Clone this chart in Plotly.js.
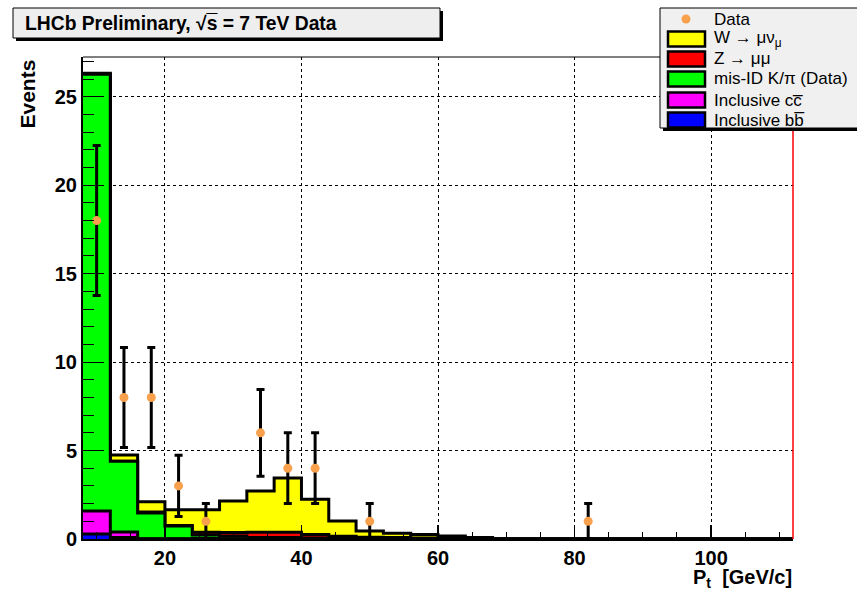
<!DOCTYPE html>
<html>
<head>
<meta charset="utf-8">
<script src="https://cdn.plot.ly/plotly-3.0.1.min.js"></script>
<style>
  html, body { margin: 0; padding: 0; background: #ffffff; }
  #chart { width: 857px; height: 590px; }
</style>
</head>
<body>
<div id="chart"></div>
<script>
// Histogram bin edges in Pt (GeV/c), 4 GeV wide bins from 8 to 112
const binEdges = [8, 12, 16, 20, 24, 28, 32, 36, 40, 44, 48, 52, 56, 60, 64, 68,
                  72, 76, 80, 84, 88, 92, 96, 100, 104, 108, 112];

// Expected events per bin for each stacked contribution
const wMuNu   = [0.05, 0.35, 0.58, 0.88, 1.27, 1.78, 2.34, 3.07, 2.00, 0.87, 0.35, 0.25, 0.20, 0.12, 0.06,
                 0, 0, 0, 0, 0, 0, 0, 0, 0, 0, 0];
const zMuMu   = [0, 0, 0.05, 0.03, 0.15, 0.20, 0.30, 0.30, 0.20, 0.10, 0.07, 0.05, 0.04, 0.03, 0.02,
                 0, 0, 0, 0, 0, 0, 0, 0, 0, 0, 0];
const misId   = [24.70, 4.00, 1.45, 0.72, 0.20, 0.15, 0.08, 0.08, 0.05, 0.05, 0.03, 0.03, 0.02, 0.02, 0,
                 0, 0, 0, 0, 0, 0, 0, 0, 0, 0, 0];
const ccbar   = [1.30, 0.32, 0.02, 0.02, 0.03, 0.02, 0, 0, 0, 0, 0, 0, 0, 0, 0,
                 0, 0, 0, 0, 0, 0, 0, 0, 0, 0, 0];
const bbbar   = [0.28, 0.08, 0, 0, 0, 0, 0, 0, 0, 0, 0, 0, 0, 0, 0,
                 0, 0, 0, 0, 0, 0, 0, 0, 0, 0, 0];

// Observed candidates (bin centres), counts and Poisson uncertainties
const dataPt    = [10, 14, 18, 22, 26, 34, 38, 42, 50, 82];
const dataCount = [18, 8, 8, 3, 1, 6, 4, 4, 1, 1];
const dataErr   = [4.24, 2.83, 2.83, 1.73, 1, 2.45, 2, 2, 1, 1];

// Legend entries for the stacked contributions (top of stack first)
const stackNames  = ['W \u2192 \u03bc\u03bd<sub>\u03bc</sub>', 'Z \u2192 \u03bc\u03bc',
                     'mis-ID K/\u03c0 (Data)', 'Inclusive cc\u0305', 'Inclusive bb\u0305'];
const stackColors = ['#ffff00', '#ff0000', '#00ff00', '#ff00ff', '#0000ff'];

const xTickVals = [20, 40, 60, 80, 100];
const yTickVals = [0, 5, 10, 15, 20, 25];

// ---- stacking: cumulative sums from the bottom (bb) to the top (W) ----
const layersBottomUp = [bbbar, ccbar, misId, zMuMu, wMuNu];
const cumulative = [];
let running = binEdges.slice(1).map(() => 0);
layersBottomUp.forEach(layer => {
  running = running.map((v, i) => v + layer[i]);
  cumulative.push(running.slice());
});

// Step outline: one point per lower edge, plus the last upper edge
function stepY(vals) { return vals.concat([vals[vals.length - 1]]); }

const FONT = '"Liberation Sans", Arial, Helvetica, sans-serif';
const traces = [];
// draw the tallest cumulative first so each lower layer is painted over it
for (let k = cumulative.length - 1; k >= 0; k--) {
  traces.push({
    type: 'scatter', mode: 'lines',
    x: binEdges, y: stepY(cumulative[k]),
    line: { shape: 'hv', color: '#000000', width: 3 },
    fill: 'tozeroy', fillcolor: stackColors[cumulative.length - 1 - k],
    hoverinfo: 'skip', showlegend: false
  });
}
traces.push({
  type: 'scatter', mode: 'markers',
  x: dataPt, y: dataCount,
  marker: { color: '#f8a04c', size: 9 },
  error_y: { type: 'data', array: dataErr, visible: true, color: '#000000', thickness: 3, width: 4 },
  showlegend: false
});

// ---- page geometry helpers (pixel -> paper) ----
const L = 83, T = 57, PW = 710, PH = 482;
const px = x => (x - L) / PW;
const py = y => (T + PH - y) / PH;

const shapes = [
  // frame: thin top edge, red right edge
  { type: 'line', xref: 'paper', yref: 'paper', x0: 0, x1: 1, y0: 1, y1: 1,
    line: { color: '#000000', width: 1 } },
  { type: 'line', xref: 'paper', yref: 'paper', x0: 1, x1: 1, y0: 0, y1: 1,
    line: { color: '#ff0000', width: 1.5 } },
  // title box with drop shadow
  { type: 'rect', xref: 'paper', yref: 'paper', x0: px(16), x1: px(443), y0: py(41), y1: py(11),
    fillcolor: '#000000', line: { width: 0 } },
  { type: 'rect', xref: 'paper', yref: 'paper', x0: px(13), x1: px(440), y0: py(38), y1: py(8),
    fillcolor: '#eeeeee', line: { color: '#000000', width: 1 } },
  // legend box with drop shadow
  { type: 'rect', xref: 'paper', yref: 'paper', x0: px(663), x1: px(880), y0: py(131), y1: py(11),
    fillcolor: '#000000', line: { width: 0 } },
  { type: 'rect', xref: 'paper', yref: 'paper', x0: px(660), x1: px(877), y0: py(128), y1: py(8),
    fillcolor: '#f0f0f0', line: { color: '#000000', width: 1 } },
  // data marker in legend
  { type: 'circle', xref: 'paper', yref: 'paper', x0: px(681.5), x1: px(690.5), y0: py(23.5), y1: py(14.5),
    fillcolor: '#f8a04c', line: { width: 0 } }
];

const legendRowY = [39, 59, 79, 100, 120];
const annotations = [
  { xref: 'paper', yref: 'paper', x: px(23), y: py(23), xanchor: 'left', yanchor: 'middle',
    text: '<b>LHCb Preliminary, \u221as\u0305 = 7 TeV Data</b>', showarrow: false,
    font: { family: FONT, size: 19.3, color: '#000000' } },
  { xref: 'paper', yref: 'paper', x: px(712), y: py(19), xanchor: 'left', yanchor: 'middle',
    text: 'Data', showarrow: false, font: { family: FONT, size: 17, color: '#000000' } },
  { xref: 'paper', yref: 'paper', x: px(27), y: 1, xanchor: 'center', yanchor: 'top',
    textangle: -90, text: '<b>Events</b>', showarrow: false,
    font: { family: FONT, size: 21, color: '#000000' } },
  { xref: 'paper', yref: 'paper', x: 1, y: py(578), xanchor: 'right', yanchor: 'middle',
    borderpad: 0,
    text: '<b>P<sub>t</sub>\u00a0\u00a0[GeV/c]</b>', showarrow: false,
    font: { family: FONT, size: 20, color: '#000000' } }
];
stackNames.forEach((name, i) => {
  const yc = legendRowY[i];
  shapes.push({ type: 'rect', xref: 'paper', yref: 'paper',
    x0: px(668), x1: px(705), y0: py(yc + 7.5), y1: py(yc - 7.5),
    fillcolor: stackColors[i], line: { color: '#000000', width: 2.5 } });
  annotations.push({ xref: 'paper', yref: 'paper', x: px(712), y: py(yc), xanchor: 'left', yanchor: 'middle',
    text: name, showarrow: false, font: { family: FONT, size: 17, color: '#000000' } });
});

const layout = {
  width: 857, height: 590,
  margin: { l: L, r: 857 - L - PW, t: T, b: 590 - T - PH, pad: 0 },
  paper_bgcolor: '#ffffff', plot_bgcolor: '#ffffff',
  font: { family: FONT, color: '#000000' },
  showlegend: false,
  xaxis: {
    range: [8, 112], tickmode: 'array', tickvals: xTickVals,
    ticks: 'inside', ticklen: 14, tickwidth: 1.2, tickcolor: '#000000',
    showline: true, linecolor: '#000000', linewidth: 2,
    showgrid: true, gridcolor: '#000000', gridwidth: 1, griddash: 'dot',
    zeroline: false,
    minor: { dtick: 5, tick0: 0, ticks: 'inside', ticklen: 7, tickwidth: 1, tickcolor: '#000000', showgrid: false },
    tickfont: { family: FONT, size: 20, color: '#000000', weight: 'bold' }
  },
  yaxis: {
    range: [0, 27.25], tickmode: 'array', tickvals: yTickVals,
    ticks: 'inside', ticklen: 21, tickwidth: 1.2, tickcolor: '#000000',
    showline: true, linecolor: '#000000', linewidth: 2,
    showgrid: true, gridcolor: '#000000', gridwidth: 1, griddash: 'dot',
    zeroline: false,
    minor: { dtick: 1, tick0: 0, ticks: 'inside', ticklen: 11, tickwidth: 1, tickcolor: '#000000', showgrid: false },
    tickfont: { family: FONT, size: 20, color: '#000000', weight: 'bold' }
  },
  shapes: shapes,
  annotations: annotations
};

Plotly.newPlot('chart', traces, layout, { displayModeBar: false, staticPlot: true });
</script>
</body>
</html>
